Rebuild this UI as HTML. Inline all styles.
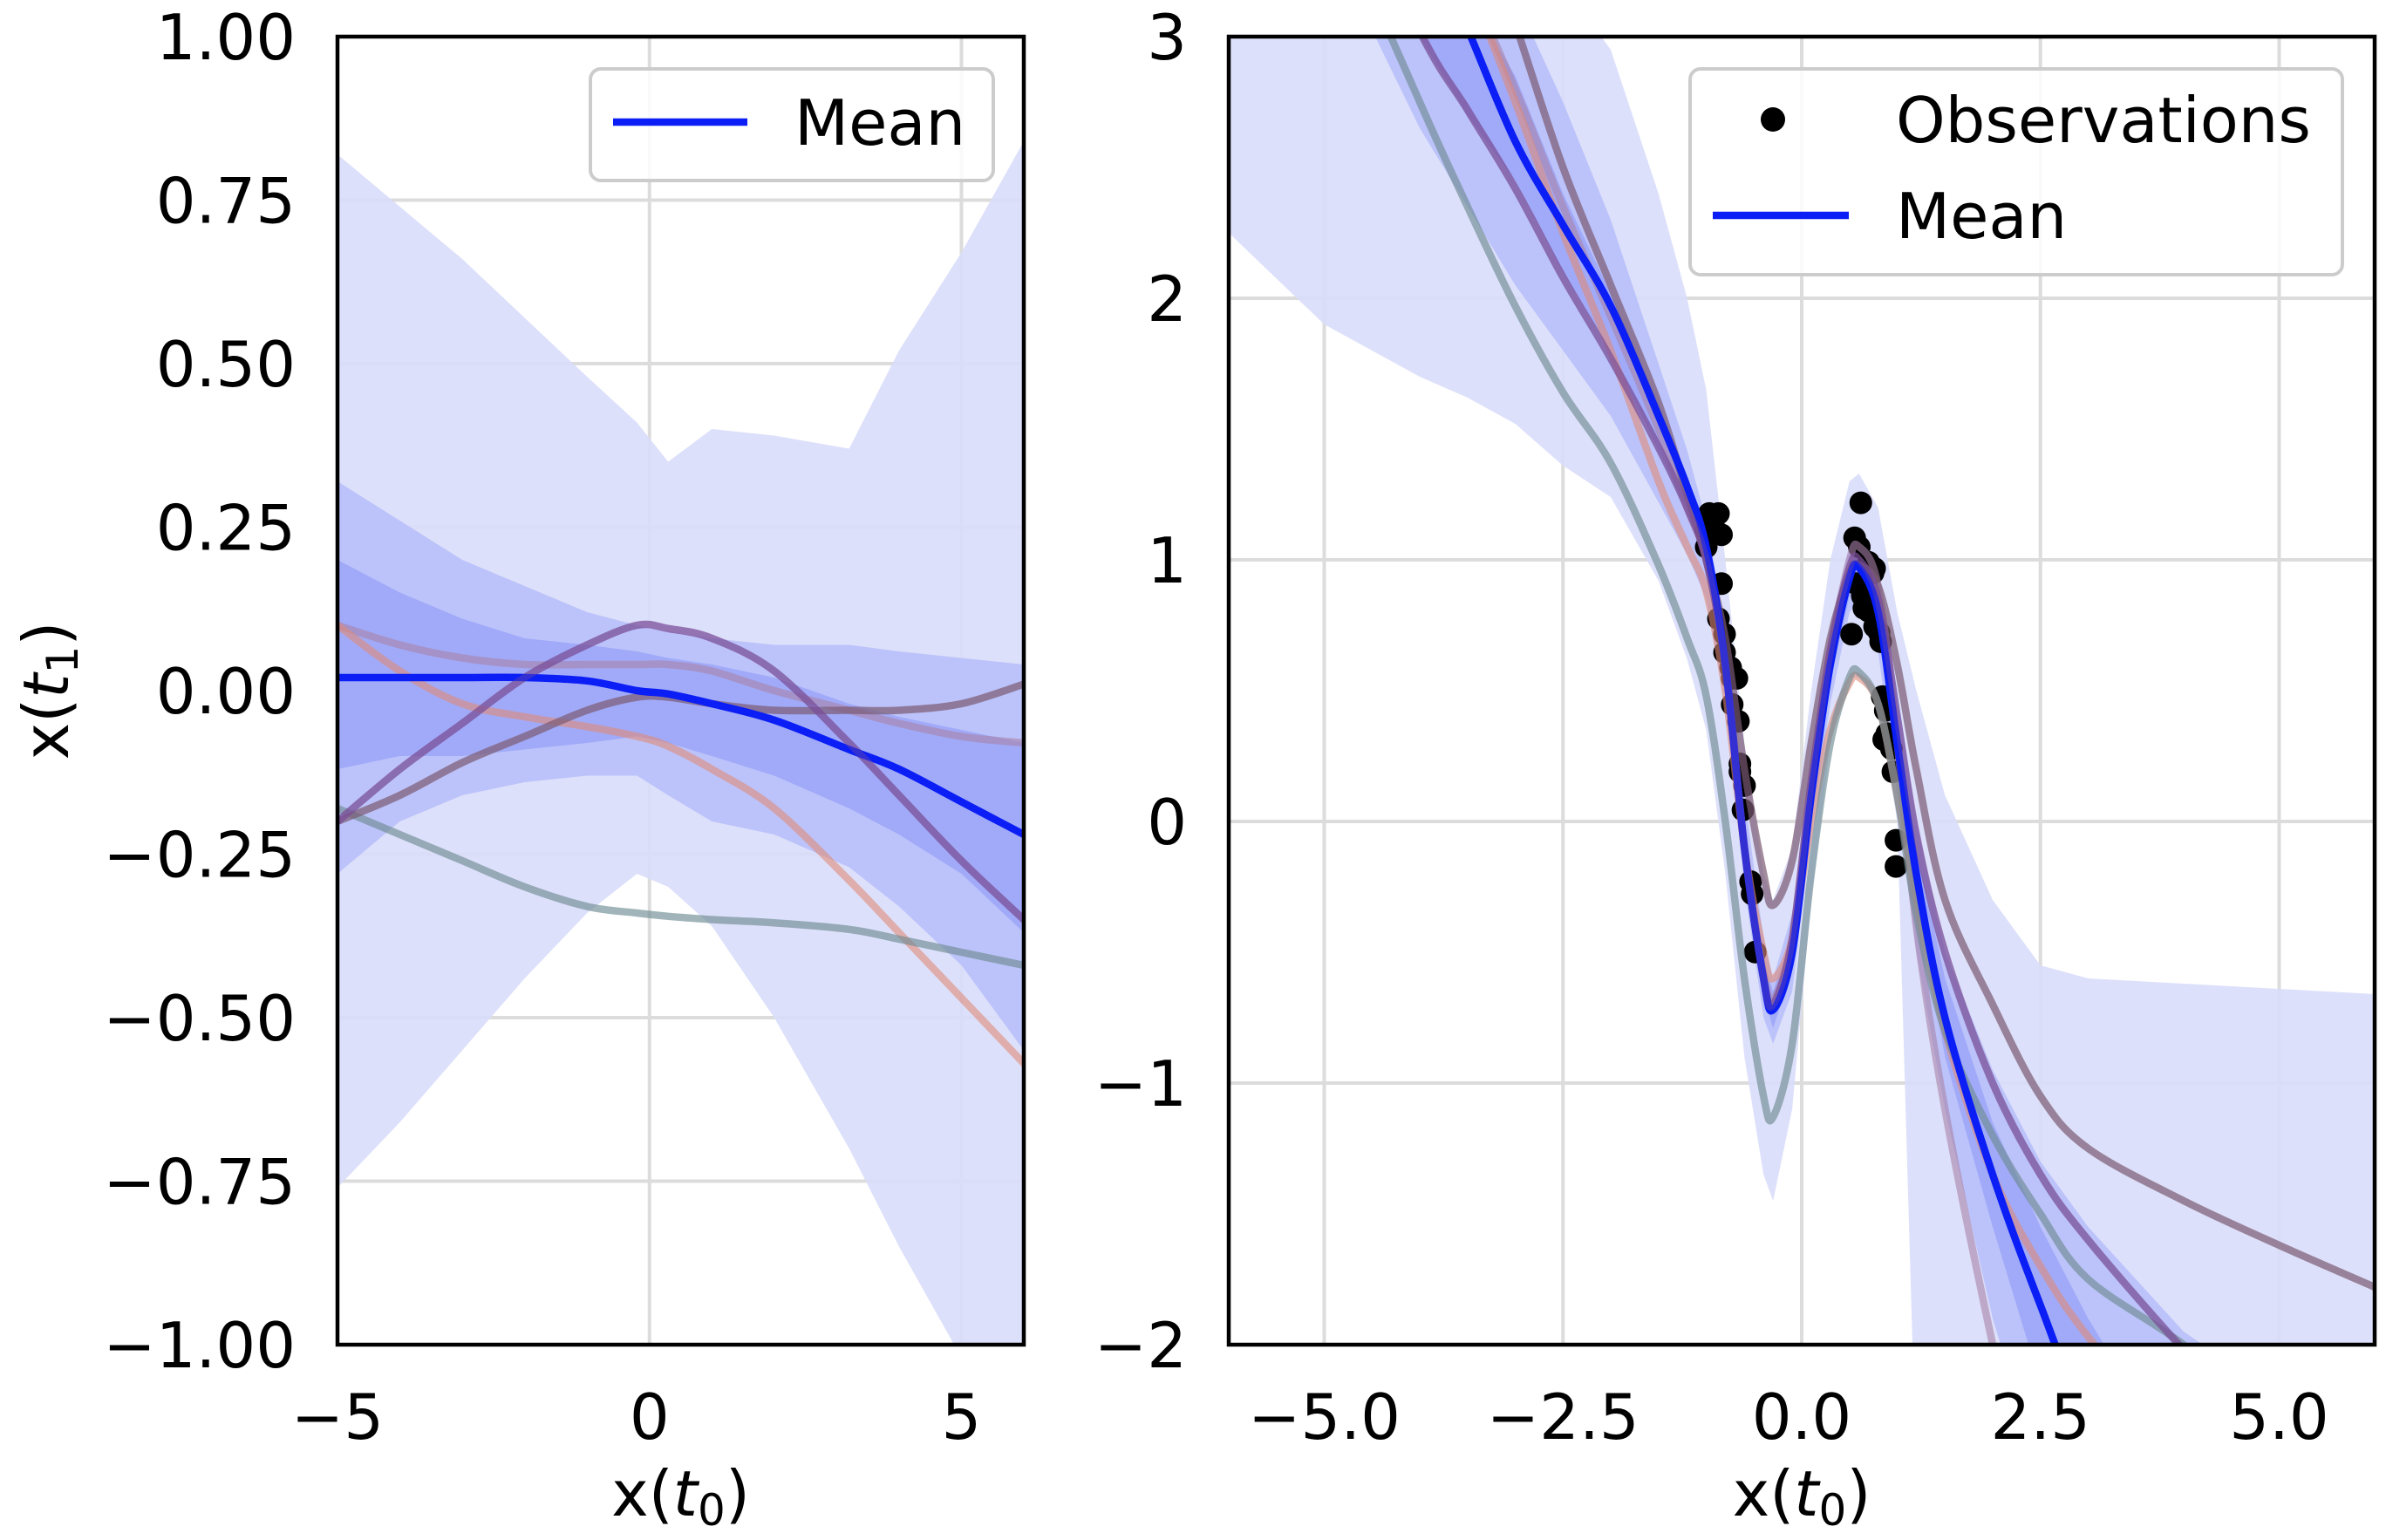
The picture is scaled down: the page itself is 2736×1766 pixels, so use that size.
<!DOCTYPE html>
<html><head><meta charset="utf-8"><style>
html,body{margin:0;padding:0;background:#fff;width:2736px;height:1766px;overflow:hidden}
svg{display:block}
text{font-family:"DejaVu Sans","Liberation Sans",sans-serif;fill:#000}
</style></head><body>
<svg id="chart" width="2736" height="1766" viewBox="0 0 2736 1766" xmlns="http://www.w3.org/2000/svg">
<defs>
<clipPath id="clipL"><rect x="387" y="42" width="787" height="1500"/></clipPath>
<clipPath id="clipR"><rect x="1409" y="42" width="1314" height="1500"/></clipPath>
</defs>
<g id="left"></g>
<g id="right"></g>
</svg>
<script>
// ---------- LEFT PANEL DATA ----------
const leftX = [-5,-4,-3,-2,-1,-0.2,0.3,1,2,3.2,4,5,6];
const leftOuterUpper = [0.82,0.74,0.66,0.57,0.48,0.41,0.35,0.40,0.39,0.37,0.52,0.67,0.84];
const leftOuterLower = [-0.76,-0.66,-0.55,-0.44,-0.34,-0.28,-0.30,-0.36,-0.50,-0.70,-0.85,-1.02,-1.10];
const leftMidUpper = [0.32,0.26,0.20,0.16,0.12,0.10,0.09,0.08,0.07,0.07,0.06,0.05,0.04];
const leftMidLower = [-0.28,-0.20,-0.16,-0.14,-0.13,-0.13,-0.16,-0.20,-0.22,-0.27,-0.33,-0.42,-0.55];
const leftInUpper = [0.20,0.15,0.11,0.08,0.07,0.06,0.05,0.04,0.02,-0.02,-0.04,-0.06,-0.08];
const leftInLower = [-0.12,-0.10,-0.10,-0.09,-0.08,-0.07,-0.08,-0.10,-0.13,-0.18,-0.22,-0.28,-0.37];
const leftMean = [0.02,0.02,0.02,0.02,0.015,0.0,-0.005,-0.02,-0.045,-0.09,-0.12,-0.17,-0.22];
const leftSamplePurple = [-0.20,-0.12,-0.05,0.02,0.07,0.10,0.095,0.08,0.03,-0.08,-0.16,-0.26,-0.35];
const leftSampleSalmon = [0.10,0.03,-0.02,-0.04,-0.055,-0.07,-0.085,-0.12,-0.18,-0.29,-0.37,-0.47,-0.57];
const leftSampleMauve = [-0.20,-0.16,-0.11,-0.07,-0.03,-0.01,-0.01,-0.02,-0.03,-0.03,-0.03,-0.02,0.01];
const leftSamplePale = [0.10,0.07,0.05,0.04,0.04,0.04,0.04,0.03,0.0,-0.03,-0.05,-0.07,-0.08];
const leftSampleGray = [-0.18,-0.22,-0.26,-0.30,-0.33,-0.34,-0.345,-0.35,-0.355,-0.365,-0.38,-0.40,-0.42];
const leftXTicks = [-5,0,5];
const leftXTickLabels = ["\u22125","0","5"];
const leftYTicks = [-1,-0.75,-0.5,-0.25,0,0.25,0.5,0.75,1];
const leftYTickLabels = ["\u22121.00","\u22120.75","\u22120.50","\u22120.25","0.00","0.25","0.50","0.75","1.00"];

// ---------- RIGHT PANEL DATA ----------
const rightX = [-6,-5,-4,-3.5,-3,-2.5,-2,-1.5,-1.2,-1,-0.8,-0.6,-0.4,-0.3,-0.1,0.1,0.3,0.5,0.6,0.8,1.0,1.2,1.5,2,2.5,3,4,5,6];
const rightOuterUpper = [4.5,4.2,3.8,3.6,3.4,3.2,2.95,2.4,2.0,1.65,1.0,0.3,-0.2,-0.3,-0.1,0.5,1.0,1.3,1.33,1.2,0.8,0.5,0.1,-0.3,-0.55,-0.6,-0.62,-0.64,-0.66];
const rightOuterLower = [2.25,1.9,1.7,1.62,1.52,1.36,1.24,0.92,0.62,0.35,-0.2,-0.9,-1.35,-1.45,-1.1,-0.3,0.3,0.55,0.55,0.45,0.0,-2.5,-4,-5,-6,-6,-6,-6,-6];
const rightMidUpper = [6,5,4,3.6,3.15,2.75,2.3,1.75,1.42,1.15,0.75,0.1,-0.45,-0.6,-0.35,0.25,0.75,1.05,1.08,0.95,0.5,0.0,-0.5,-0.95,-1.3,-1.55,-1.95,-2.2,-2.4];
const rightMidLower = [3.9,3.4,2.65,2.35,2.05,1.8,1.55,1.22,1.02,0.85,0.45,-0.25,-0.75,-0.85,-0.65,-0.05,0.45,0.8,0.85,0.65,0.1,-0.5,-1.1,-1.9,-2.5,-3,-3.8,-4.5,-5];
const rightInUpper = [5.6,4.7,3.7,3.15,2.85,2.4,2.02,1.6,1.32,1.09,0.67,-0.03,-0.53,-0.65,-0.43,0.17,0.67,1.0,1.04,0.87,0.37,-0.1,-0.6,-1.15,-1.55,-1.9,-2.5,-3.0,-3.3];
const rightInLower = [4.6,3.8,3.0,2.7,2.45,2.1,1.8,1.42,1.18,0.97,0.53,-0.17,-0.67,-0.79,-0.57,0.03,0.53,0.86,0.9,0.73,0.23,-0.3,-0.9,-1.55,-2.15,-2.7,-3.5,-4.2,-4.7];
const rightMean = [5.4,4.4,3.45,3.03,2.6,2.28,1.97,1.55,1.28,1.05,0.6,-0.1,-0.6,-0.72,-0.5,0.1,0.6,0.93,0.97,0.8,0.3,-0.2,-0.75,-1.35,-1.85,-2.3,-3.0,-3.6,-4.0];
const rightSampleGray = [4.6,3.6,2.75,2.35,1.97,1.64,1.37,0.98,0.7,0.48,0.0,-0.6,-1.05,-1.13,-0.85,-0.2,0.3,0.55,0.57,0.45,0.1,-0.35,-0.8,-1.2,-1.5,-1.75,-2.0,-2.3,-2.6];
const rightSamplePurple = [4.6,3.8,3.02,2.72,2.42,2.08,1.77,1.43,1.2,1.0,0.6,-0.1,-0.6,-0.7,-0.45,0.15,0.65,0.97,1.0,0.85,0.4,-0.05,-0.5,-1.0,-1.35,-1.6,-2.02,-2.4,-2.8];
const rightSampleMauve = [6,5.2,4.2,3.6,3.05,2.5,2.05,1.6,1.25,1.0,0.7,0.2,-0.2,-0.32,-0.15,0.3,0.7,0.95,0.98,0.9,0.6,0.2,-0.3,-0.7,-1.05,-1.25,-1.45,-1.62,-1.78];
const rightSamplePale = [5,4.2,3.5,3.2,2.8,2.35,1.93,1.5,1.2,1.0,0.6,-0.1,-0.58,-0.68,-0.45,0.15,0.65,1.0,1.05,0.9,0.3,-0.4,-1.1,-2.0,-2.8,-3.5,-4.5,-5.5,-6.5];
const rightSampleSalmon = [5.2,4.4,3.55,3.2,2.75,2.25,1.8,1.3,1.05,0.88,0.5,-0.1,-0.5,-0.6,-0.45,0.0,0.35,0.53,0.55,0.45,0.1,-0.3,-0.8,-1.35,-1.7,-1.97,-2.4,-2.8,-3.2];
const obsX = [-0.968,-0.872,-1.0,-0.904,-1.0,-0.84,-0.84,-0.872,-0.808,-0.808,-0.744,-0.728,-0.679,-0.728,-0.663,-0.647,-0.647,-0.599,-0.615,-0.535,-0.519,-0.487,0.619,0.554,0.603,0.571,0.635,0.699,0.763,0.747,0.522,0.651,0.763,0.811,0.827,0.843,0.891,0.859,0.939,0.955,0.987,0.987,0.875,0.699];
const obsY = [1.177,1.177,1.113,1.113,1.049,1.096,0.909,0.775,0.716,0.646,0.588,0.547,0.547,0.447,0.383,0.22,0.19,0.137,0.044,-0.23,-0.277,-0.499,1.218,1.084,1.049,0.909,0.862,0.991,0.967,0.95,0.716,0.815,0.745,0.722,0.687,0.477,0.336,0.313,0.278,0.19,-0.072,-0.172,0.424,0.804];
const rightXTicks = [-5,-2.5,0,2.5,5];
const rightXTickLabels = ["\u22125.0","\u22122.5","0.0","2.5","5.0"];
const rightYTicks = [-2,-1,0,1,2,3];
const rightYTickLabels = ["\u22122","\u22121","0","1","2","3"];

const NS = "http://www.w3.org/2000/svg";
function mk(tag, attrs, parent){
  const e = document.createElementNS(NS, tag);
  for (const k in attrs) e.setAttribute(k, attrs[k]);
  parent.appendChild(e);
  return e;
}
function linScale(d0,d1,r0,r1){ return v => r0 + (v-d0)/(d1-d0)*(r1-r0); }
function smoothPath(xs, ys, sx, sy){
  const p = xs.map((x,i)=>[sx(x), sy(ys[i])]);
  let d = "M"+p[0][0].toFixed(1)+","+p[0][1].toFixed(1);
  for (let i=0;i<p.length-1;i++){
    const p0=p[Math.max(0,i-1)], p1=p[i], p2=p[i+1], p3=p[Math.min(p.length-1,i+2)];
    const c1=[p1[0]+(p2[0]-p0[0])/6, p1[1]+(p2[1]-p0[1])/6];
    const c2=[p2[0]-(p3[0]-p1[0])/6, p2[1]-(p3[1]-p1[1])/6];
    d += " C"+c1[0].toFixed(1)+","+c1[1].toFixed(1)+" "+c2[0].toFixed(1)+","+c2[1].toFixed(1)+" "+p2[0].toFixed(1)+","+p2[1].toFixed(1);
  }
  return d;
}
function bandPath(xs, lo, hi, sx, sy){
  let d = "";
  xs.forEach((x,i)=>{ d += (i?"L":"M")+sx(x).toFixed(1)+","+sy(hi[i]).toFixed(1); });
  for (let i=xs.length-1;i>=0;i--) d += "L"+sx(xs[i]).toFixed(1)+","+sy(lo[i]).toFixed(1);
  return d+"Z";
}

function drawPanel(g, cfg){
  const sx = linScale(cfg.xmin,cfg.xmax,cfg.L,cfg.R);
  const sy = linScale(cfg.ymin,cfg.ymax,1542,42);
  const grid = mk("g",{},g);
  
  
  cfg.xt.forEach(v=>{ const l=mk("line",{x1:sx(v),x2:sx(v),y1:42,y2:1542,stroke:"#dcdcdc","stroke-width":4},grid);
      });
  cfg.yt.forEach(v=>{ const l=mk("line",{x1:cfg.L,x2:cfg.R,y1:sy(v),y2:sy(v),stroke:"#dcdcdc","stroke-width":4},grid);
      });
  const plot = mk("g",{"clip-path":"url(#"+cfg.clip+")"},g);
  
  
  const b1=mk("path",{d:bandPath(cfg.x,cfg.oLo,cfg.oHi,sx,sy),fill:"#d9ddfa","fill-opacity":0.9},plot);
   
  const b2=mk("path",{d:bandPath(cfg.x,cfg.mLo,cfg.mHi,sx,sy),fill:"#bcc3fa"},plot);
   
  const b3=mk("path",{d:bandPath(cfg.x,cfg.iLo,cfg.iHi,sx,sy),fill:"#a1aaf8"},plot);
   
  if (cfg.obsX){
    cfg.obsX.forEach((x,i)=>{ const c=mk("circle",{cx:sx(x),cy:sy(cfg.obsY[i]),r:13,fill:"#000"},plot);
        });
  }
  cfg.samples.forEach(s=>{
    const p=mk("path",{d:smoothPath(cfg.x,s.y,sx,sy),fill:"none",stroke:s.c,"stroke-width":8.5,"stroke-opacity":s.a,"stroke-linecap":"round"},plot);
    
    
  });
  const m=mk("path",{d:smoothPath(cfg.x,cfg.mean,sx,sy),fill:"none",stroke:"#0a1ef5","stroke-width":8.5},plot);
   
  cfg.samples.forEach(s=>{
    if(!s.top) return;
    const p=mk("path",{d:smoothPath(cfg.x,s.y,sx,sy),fill:"none",stroke:s.c,"stroke-width":8.5,"stroke-opacity":s.a*0.6},plot);
    
    
  });
  const fr=mk("rect",{x:cfg.L,y:42,width:cfg.R-cfg.L,height:1500,fill:"none",stroke:"#000","stroke-width":4.5},g);
   
  cfg.xt.forEach((v,i)=>{ const t=mk("text",{x:sx(v),y:1650,"font-size":72,"text-anchor":"middle"},g); t.textContent=cfg.xl[i];
      });
  cfg.yt.forEach((v,i)=>{ const t=mk("text",{x:cfg.L-48,y:sy(v)+26,"font-size":72,"text-anchor":"end"},g); t.textContent=cfg.yl[i];
      });
  const xl=mk("text",{x:(cfg.L+cfg.R)/2,y:1738,"font-size":72,"text-anchor":"middle"},g);
  xl.innerHTML='x(<tspan font-style="italic">t</tspan><tspan font-size="50" dy="11">0</tspan><tspan dy="-11">)</tspan>';
   
}

const sampleColors = {purple:"#7a4e98",salmon:"#e08a78",mauve:"#7a5a72",pale:"#a882a8",gray:"#6e8c94"};
drawPanel(document.getElementById('left'),{
  L:387,R:1174,xmin:-5,xmax:6,ymin:-1,ymax:1,clip:"clipL",x:leftX,
  oLo:leftOuterLower,oHi:leftOuterUpper,mLo:leftMidLower,mHi:leftMidUpper,iLo:leftInLower,iHi:leftInUpper,
  mean:leftMean,xt:leftXTicks,xl:leftXTickLabels,yt:leftYTicks,yl:leftYTickLabels,
  samples:[
    {n:'sample-line-pale',y:leftSamplePale,c:sampleColors.pale,a:0.6},
    {n:'sample-line-salmon',y:leftSampleSalmon,c:sampleColors.salmon,a:0.6},
    {n:'sample-line-gray',y:leftSampleGray,c:sampleColors.gray,a:0.65},
    {n:'sample-line-mauve',y:leftSampleMauve,c:sampleColors.mauve,a:0.7},
    {n:'sample-line-purple',y:leftSamplePurple,c:sampleColors.purple,a:0.6,top:true}
  ]
});
drawPanel(document.getElementById('right'),{
  L:1409,R:2723,xmin:-6,xmax:6,ymin:-2,ymax:3,clip:"clipR",x:rightX,
  oLo:rightOuterLower,oHi:rightOuterUpper,mLo:rightMidLower,mHi:rightMidUpper,iLo:rightInLower,iHi:rightInUpper,
  mean:rightMean,xt:rightXTicks,xl:rightXTickLabels,yt:rightYTicks,yl:rightYTickLabels,
  obsX:obsX,obsY:obsY,
  samples:[
    {n:'sample-line-pale',y:rightSamplePale,c:sampleColors.pale,a:0.6},
    {n:'sample-line-salmon',y:rightSampleSalmon,c:sampleColors.salmon,a:0.6},
    {n:'sample-line-gray',y:rightSampleGray,c:sampleColors.gray,a:0.65},
    {n:'sample-line-mauve',y:rightSampleMauve,c:sampleColors.mauve,a:0.7},
    {n:'sample-line-purple',y:rightSamplePurple,c:sampleColors.purple,a:0.6,top:true}
  ]
});

const svg = document.getElementById('chart');
const yt = mk("text",{x:0,y:0,"font-size":72,"text-anchor":"middle",transform:"translate(78,792) rotate(-90)"},svg);
yt.innerHTML='x(<tspan font-style="italic">t</tspan><tspan font-size="50" dy="11">1</tspan><tspan dy="-11">)</tspan>';



const lg1 = mk("g",{},svg);


mk("rect",{x:677,y:79,width:462,height:128,rx:12,fill:"#fff","fill-opacity":0.85,stroke:"#cccccc","stroke-width":4},lg1);
const l1=mk("line",{x1:703,x2:857,y1:140,y2:140,stroke:"#0a1ef5","stroke-width":8.5},lg1);
 
const t1=mk("text",{x:911,y:166,"font-size":72},lg1); t1.textContent="Mean";
 

const lg2 = mk("g",{},svg);


mk("rect",{x:1938,y:79,width:748,height:236,rx:12,fill:"#fff","fill-opacity":0.85,stroke:"#cccccc","stroke-width":4},lg2);
const d2=mk("circle",{cx:2033,cy:137,r:14,fill:"#000"},lg2);
 
const t2=mk("text",{x:2174,y:163,"font-size":72},lg2); t2.textContent="Observations";
 
const l2=mk("line",{x1:1964,x2:2120,y1:247,y2:247,stroke:"#0a1ef5","stroke-width":8.5},lg2);
 
const t3=mk("text",{x:2174,y:273,"font-size":72},lg2); t3.textContent="Mean";
 
</script>
</body></html>
